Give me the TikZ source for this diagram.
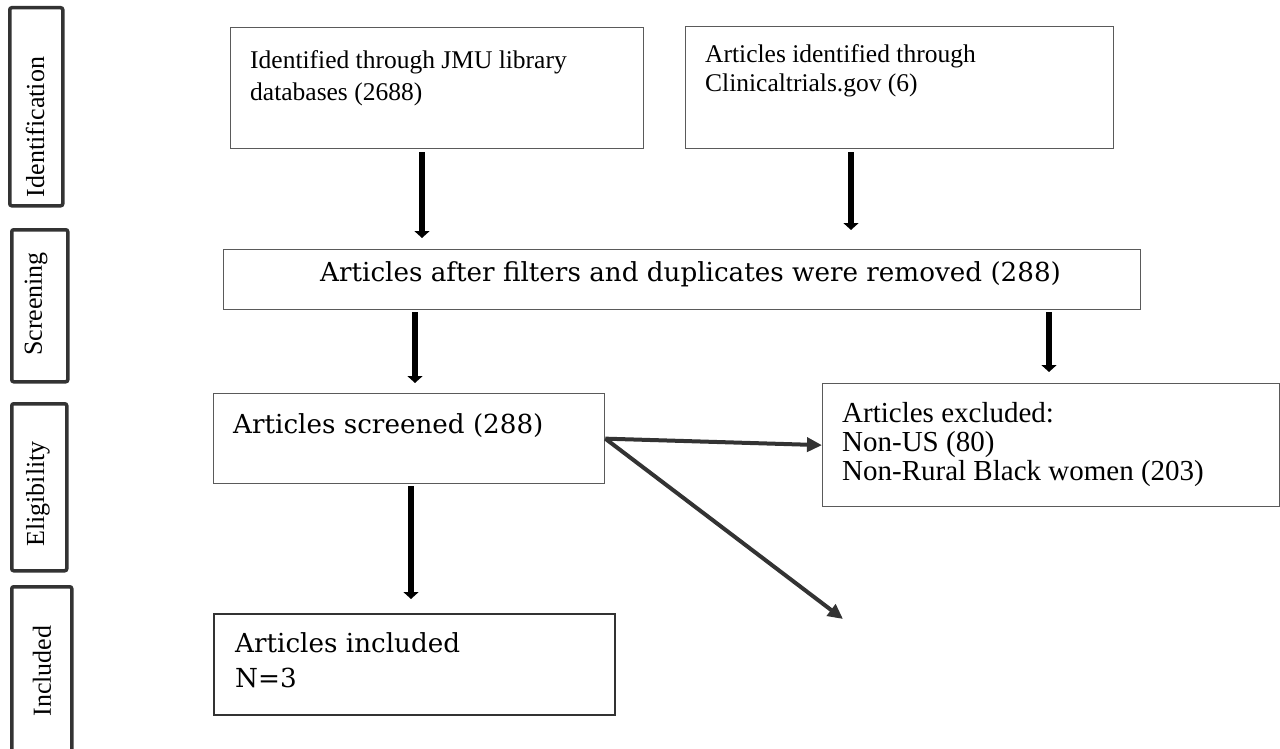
\documentclass[tikz,border=0pt]{standalone}
\usepackage{fontspec}
\setmainfont{Liberation Serif}
\newfontfamily\schl{DejaVu Serif}
\usetikzlibrary{arrows.meta,calc}
\definecolor{boxgray}{HTML}{5A5A5A}
\definecolor{darkln}{HTML}{333333}
\begin{document}
\begin{tikzpicture}[x=1pt,y=-1pt,
  phase/.style={draw=darkln, line width=3.5pt, rounded corners=2pt, inner sep=0pt, anchor=north west},
  phasetxt/.style={rotate=90, inner sep=0pt, font=\fontsize{26}{30}\selectfont},
  box/.style={draw=boxgray, line width=1.3pt, inner sep=0pt, anchor=north west},
  tms/.style={inner sep=0pt, anchor=base west, font=\fontsize{25.5}{30}\selectfont},
  tmsbig/.style={inner sep=0pt, anchor=base west, font=\fontsize{29}{33}\selectfont},
  sch/.style={inner sep=0pt, anchor=base west, font=\schl\fontsize{26.2}{30}\selectfont},
  varrow/.style={line width=6pt, draw=black, -{Triangle[width=15pt,length=7pt]}},
  darrow/.style={line width=4pt, draw=darkln, -{Triangle[width=14pt,length=15pt]}}
]
\useasboundingbox (0,0) rectangle (1280,749);

% phase labels
\node[phase, minimum width=53pt, minimum height=198pt] (p1) at (8,6) {};
\node[phasetxt] (p1t) at (35,127) {Identification};
\node[phase, minimum width=56pt, minimum height=152pt] (p2) at (10,228) {};
\node[phasetxt] (p2t) at (36,304) {Screening};
\node[phase, minimum width=55pt, minimum height=167pt] (p3) at (10,402) {};
\node[phasetxt] (p3t) at (38,494) {Eligibility};
\node[phase, minimum width=60pt, minimum height=170pt] (p4) at (10,585) {};
\node[phasetxt] (p4t) at (42,671) {Included};

% boxes
\node[box, minimum width=413pt, minimum height=121pt] (b1) at (230,27) {};
\node[tms] (b1t1) at (250,69) {Identified through JMU library};
\node[tms] (b1t2) at (250,101) {databases (2688)};

\node[box, minimum width=428pt, minimum height=122pt] (b2) at (685,26) {};
\node[tms] (b2t1) at (705,63) {Articles identified through};
\node[tms] (b2t2) at (705,92) {Clinicaltrials.gov (6)};

\node[box, minimum width=917pt, minimum height=60pt] (scr) at (223,249) {};
\node[sch] (scrt) at (320,281) {Articles after filters and duplicates were removed (288)};

\node[box, minimum width=391pt, minimum height=90pt] (elig) at (213,393) {};
\node[sch] (eligt) at (233,433) {Articles screened (288)};

\node[box, minimum width=457pt, minimum height=123pt] (excl) at (822,383) {};
\node[tmsbig] (exclt1) at (842,422) {Articles excluded:};
\node[tmsbig] (exclt2) at (842,451) {Non-US (80)};
\node[tmsbig] (exclt3) at (842,480) {Non-Rural Black women (203)};

\node[box, draw=darkln, line width=2pt, minimum width=401pt, minimum height=101pt] (incl) at (213,613) {};
\node[sch] (inclt1) at (235,652) {Articles included};
\node[sch] (inclt2) at (235,687) {N=3};

% vertical arrows
\coordinate (a1e) at (422,238);
\coordinate (a2e) at (851,230);
\coordinate (a3e) at (415,383);
\coordinate (a4e) at (1049,372);
\coordinate (a5e) at (411,599);
\draw[varrow] ($(b1.south -| a1e)+(0,3)$) -- (a1e);
\draw[varrow] ($(b2.south -| a2e)+(0,3)$) -- (a2e);
\draw[varrow] ($(scr.south -| a3e)+(0,2)$) -- (a3e);
\draw[varrow] ($(scr.south -| a4e)+(0,2)$) -- (a4e);
\draw[varrow] ($(elig.south -| a5e)+(0,2)$) -- (a5e);

% diagonal arrows
\coordinate (d2e) at (843,619);
\draw[darrow] (elig.east) -- (excl.west);
\draw[darrow] (elig.east) -- (d2e);
\end{tikzpicture}
\end{document}
